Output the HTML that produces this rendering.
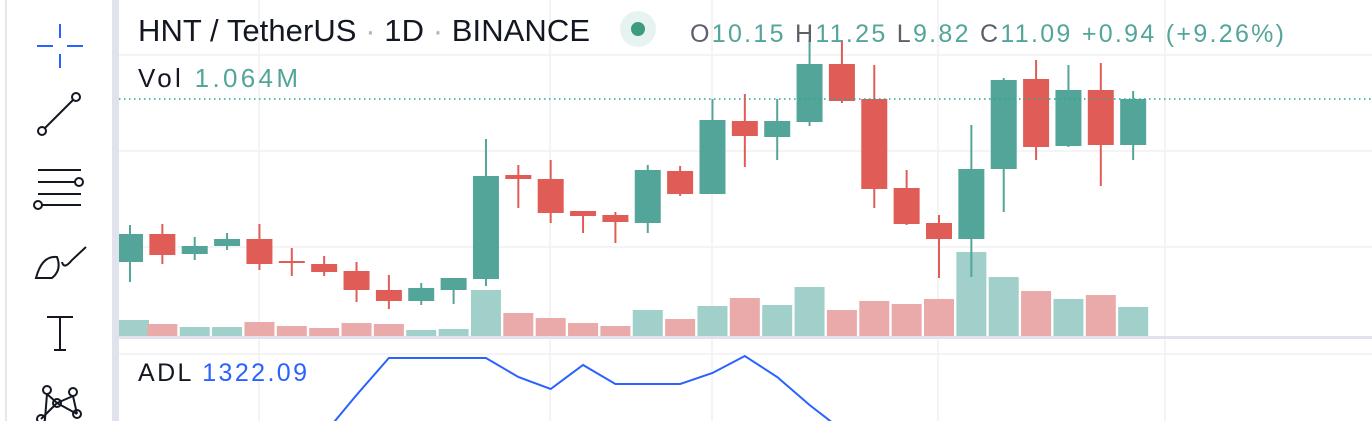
<!DOCTYPE html>
<html><head><meta charset="utf-8"><style>
body{margin:0;width:1372px;height:421px;overflow:hidden;background:#fff;font-family:"Liberation Sans",sans-serif;}
svg{position:absolute;left:0;top:0}
</style></head><body>
<svg id="c" width="1372" height="421">
<rect x="0" y="0" width="1372" height="421" fill="#fff"/>
<line x1="6" y1="0" x2="6" y2="421" stroke="#e6e8ee" stroke-width="2"/>
<rect x="112" y="0" width="7" height="421" fill="#e0e3eb"/>
<g id="toolbar" stroke="#131722" fill="none" stroke-width="2">
 <g stroke="#2962ff">
  <line x1="60" y1="24" x2="60" y2="38"/><line x1="60" y1="54" x2="60" y2="68"/>
  <line x1="37" y1="46" x2="53" y2="46"/><line x1="67" y1="46" x2="83" y2="46"/></g>
 <g><line x1="45" y1="128" x2="73" y2="100"/><circle cx="42" cy="131" r="4"/><circle cx="76" cy="97" r="4"/></g>
 <g><line x1="38" y1="170" x2="81" y2="170"/><line x1="38" y1="182" x2="75" y2="182"/><line x1="38" y1="194" x2="81" y2="194"/><line x1="42" y1="205" x2="81" y2="205"/><circle cx="79" cy="182" r="4"/><circle cx="38" cy="205" r="4"/></g>
 <g><path d="M36 278 Q42 255 57 257 Q62 270 52 278 Z"/><path d="M62 262 Q64 270 72 260 L86 247"/></g>
 <g><line x1="47" y1="317" x2="73" y2="317"/><line x1="60" y1="317" x2="60" y2="350"/><line x1="54" y1="350" x2="66" y2="350"/></g>
 <g><circle cx="47" cy="390" r="4"/><circle cx="73" cy="392" r="4"/><circle cx="57" cy="403" r="4"/><circle cx="77" cy="414" r="4"/><circle cx="41" cy="419" r="4"/><path d="M47 394 L45 419 M47 394 L57 403 L73 396 M57 403 L41 419 M57 403 L77 414 M73 396 L77 414"/></g>
</g>
<g id="grid"></g>
<g id="vol"></g>
<g id="candles"></g>
<line x1="119" y1="99" x2="1372" y2="99" stroke="#26a69a" stroke-width="1.5" stroke-dasharray="1.5 3.5"/>
<rect x="119" y="336" width="1253" height="3" fill="#e0e3eb"/>
<g id="adl"></g>
<g font-family="Liberation Sans, sans-serif">
 <text x="138" y="41" font-size="31" fill="#131722" textLength="452">HNT / TetherUS <tspan fill="#b2b5be">·</tspan> 1D <tspan fill="#b2b5be">·</tspan> BINANCE</text>
 <circle cx="638" cy="29" r="18" fill="#e6f3f0"/>
 <circle cx="638" cy="29" r="7" fill="#3d9b7f"/>
 <text x="690" y="42" font-size="25" fill="#5d606b" textLength="594">O<tspan fill="#53a59a">10.15</tspan>  H<tspan fill="#53a59a">11.25</tspan>  L<tspan fill="#53a59a">9.82</tspan>  C<tspan fill="#53a59a">11.09</tspan>  <tspan fill="#53a59a">+0.94 (+9.26%)</tspan></text>
 <text x="138" y="87" font-size="26" fill="#131722" textLength="160">Vol  <tspan fill="#53a59a">1.064M</tspan></text>
 <text x="138" y="381" font-size="25" fill="#131722" textLength="169">ADL  <tspan fill="#2962ff">1322.09</tspan></text>
</g>
</svg>
<script>
const opens  =[7.83,8.39,7.99,8.15,8.29,7.85,7.79,7.65,7.27,7.05,7.27,7.49,9.57,9.49,8.85,8.77,8.61,9.65,9.19,10.65,10.33,10.63,11.79,11.09,9.31,8.61,8.29,9.69,11.49,10.15,11.27,10.17];
const closes =[8.39,7.97,8.15,8.29,7.79,7.81,7.63,7.27,7.05,7.31,7.51,9.55,9.49,8.81,8.75,8.63,9.67,9.19,10.67,10.35,10.65,11.79,11.05,9.29,8.59,8.29,9.69,11.47,10.13,11.27,10.17,11.09];
const highs  =[8.57,8.59,8.33,8.41,8.59,8.11,7.95,7.83,7.57,7.41,7.51,10.29,9.77,9.87,8.85,8.83,9.77,9.75,11.09,11.19,11.09,12.27,12.27,11.77,9.67,8.77,10.57,11.51,11.87,11.77,11.81,11.25];
const lows   =[7.43,7.79,7.87,8.07,7.67,7.55,7.55,7.03,6.89,6.97,6.99,7.35,8.91,8.61,8.41,8.21,8.41,9.15,9.19,9.73,9.87,10.55,11.01,8.91,8.57,7.51,7.53,8.83,9.87,10.13,9.35,9.87];
const volumes=[192,144,108,108,168,120,96,156,144,72,84,552,276,216,156,120,312,204,360,456,372,588,312,420,384,444,1008,708,540,444,492,348];
const adlVals=[null,null,null,null,null,null,610,1000,1370,1370,1370,1370,1180,1060,1300,1110,1110,1110,1220,1390,1180,900,650,null,null,null,null,null,null,null,null,null];
const NS="http://www.w3.org/2000/svg";
const xOf=i=>130+i*32.36;
const yPrice=p=>99+(11.09-p)*50;
const yVol=v=>336-v/12;
const yAdl=v=>358-(v-1370)/10;
function mk(tag,attrs,parent){const e=document.createElementNS(NS,tag);for(const k in attrs)e.setAttribute(k,attrs[k]);parent.appendChild(e);return e;}
const grid=document.getElementById('grid');
[55,151,247,354].forEach(y=>{const l=mk('line',{x1:119,x2:1372,y1:y,y2:y,stroke:'#f0f1f3','stroke-width':1.5},grid);

});
[259,550,712,938,1165].forEach(x=>{const l=mk('line',{x1:x,x2:x,y1:0,y2:421,stroke:'#f0f1f3','stroke-width':1.5},grid);

});
const vg=document.getElementById('vol'),cg=document.getElementById('candles');
for(let i=0;i<opens.length;i++){
 const up=closes[i]>=opens[i];const x=xOf(i);
 const vb=mk('rect',{x:Math.max(119,x-15),y:yVol(volumes[i]),width:30,height:336-yVol(volumes[i]),fill:up?'#a1d0cb':'#eaaaa9'},vg);
 
 
 const col=up?'#53a59a':'#e05d57';
 const w=mk('line',{x1:x,x2:x,y1:yPrice(highs[i]),y2:yPrice(lows[i]),stroke:col,'stroke-width':2},cg);
 
 
 const t=Math.min(yPrice(opens[i]),yPrice(closes[i]));const h=Math.max(2,Math.abs(yPrice(opens[i])-yPrice(closes[i])));
 const bx=Math.max(119,x-13);
 const b=mk('rect',{x:bx,y:t,width:x+13-bx,height:h,fill:col},cg);
 
 
}
const ag=document.getElementById('adl');
let d='';adlVals.forEach((v,i)=>{if(v===null)return;d+=(d?'L':'M')+xOf(i)+' '+yAdl(v)+' ';});
const p=mk('path',{d:d,fill:'none',stroke:'#2962ff','stroke-width':2},ag);


</script>
</body></html>
